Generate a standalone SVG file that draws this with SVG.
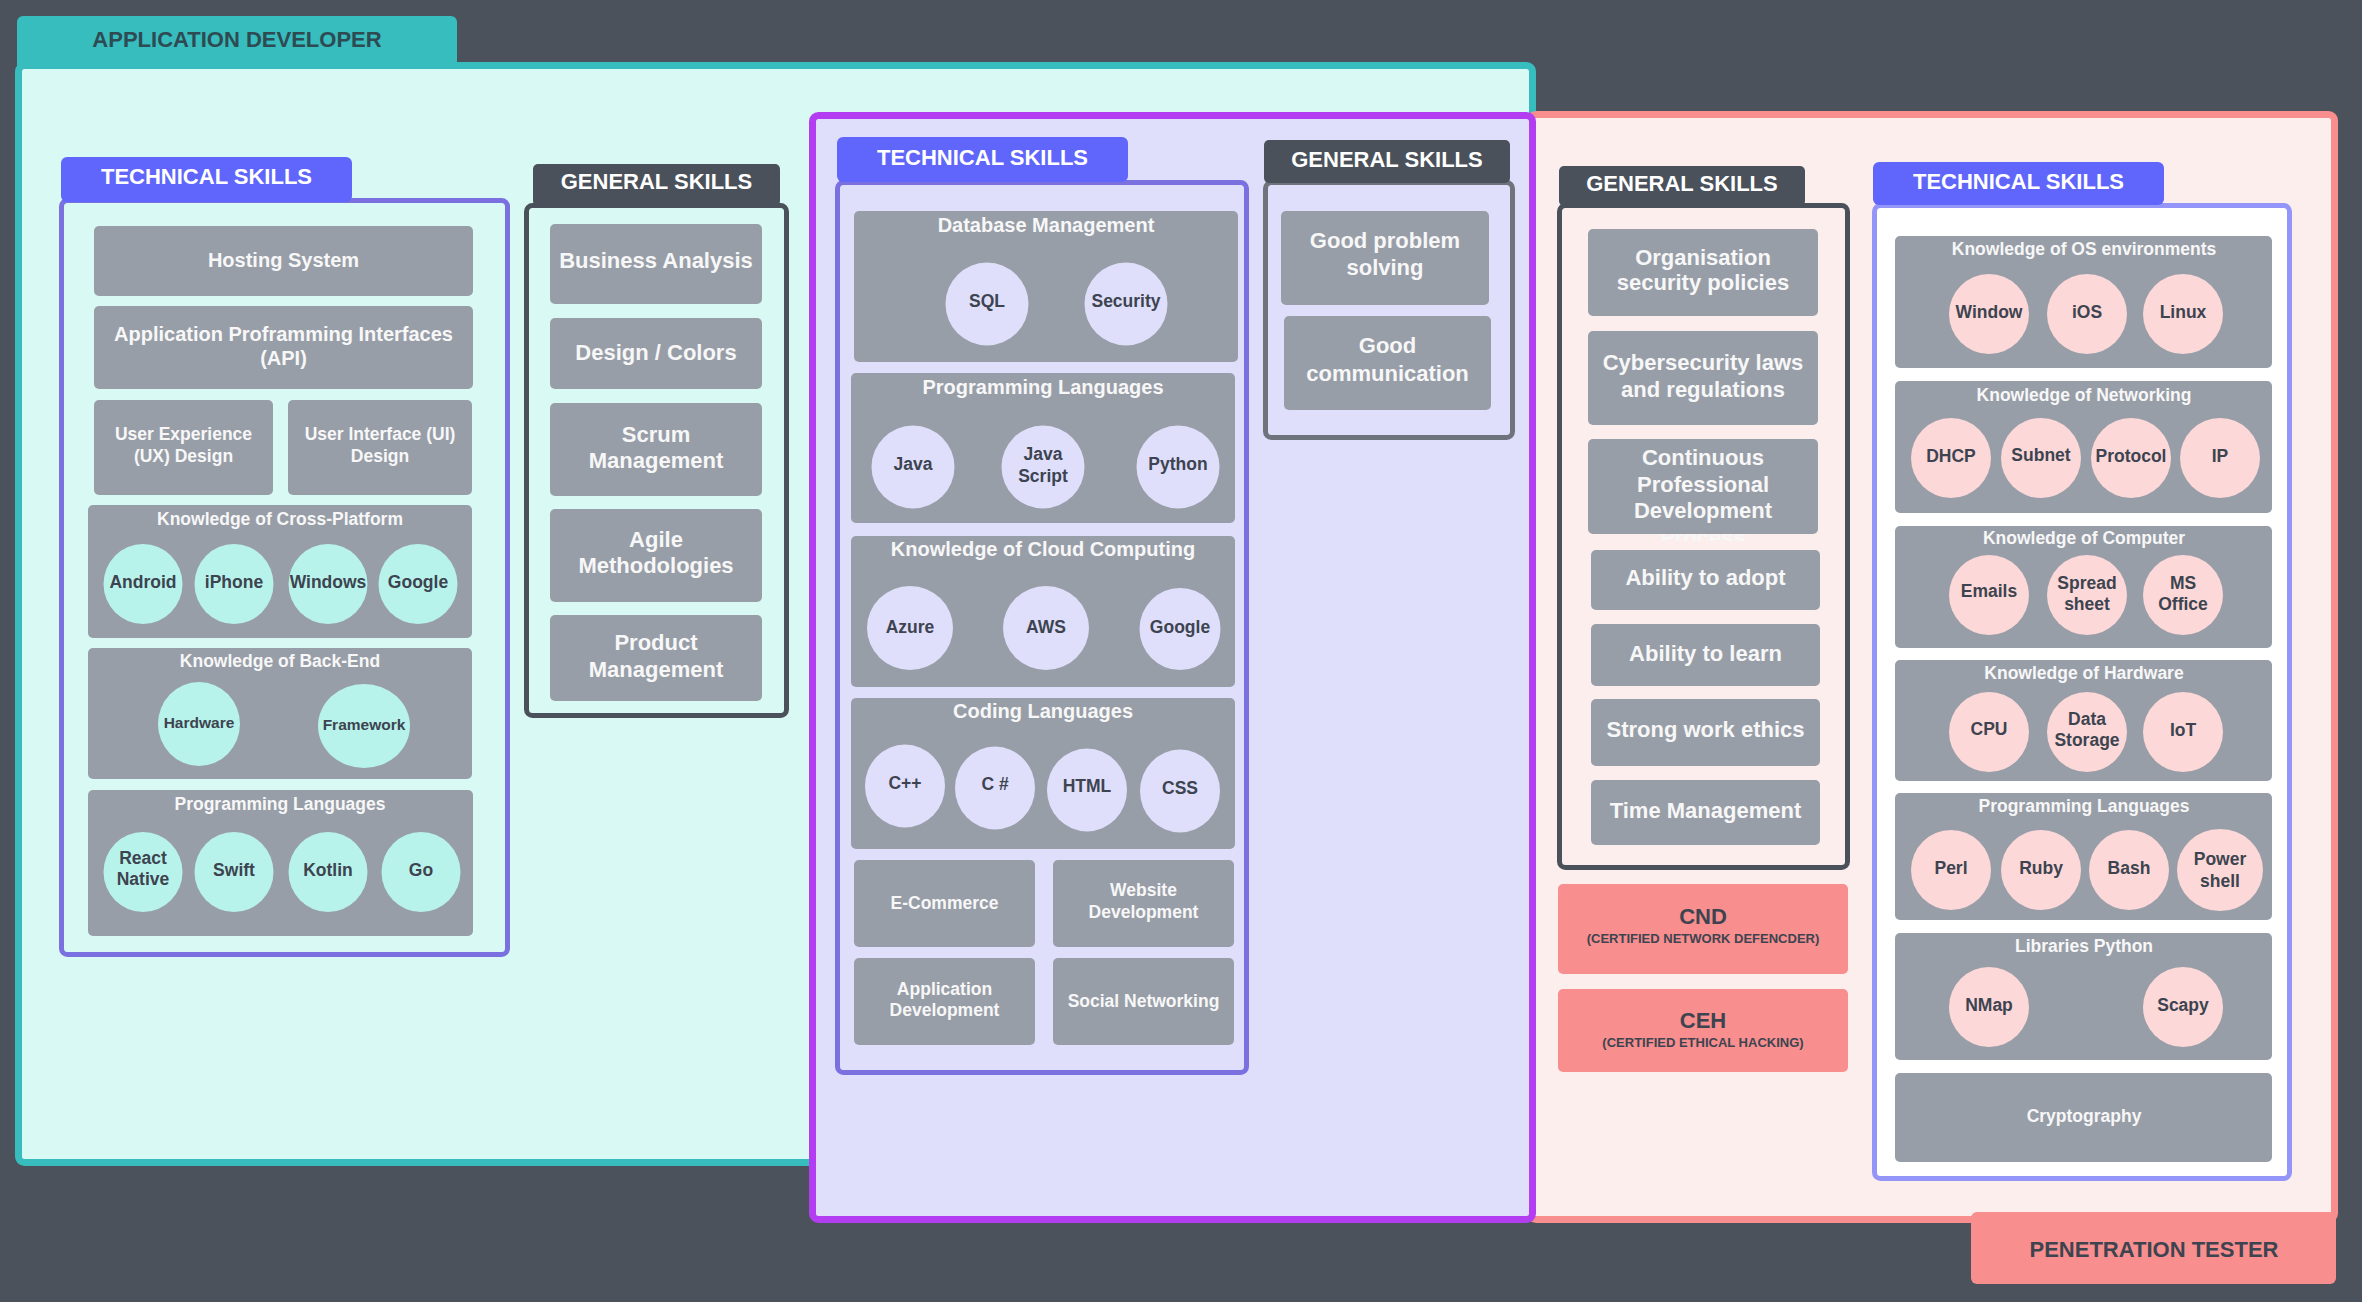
<svg xmlns="http://www.w3.org/2000/svg" width="2362" height="1302" viewBox="0 0 2362 1302">
<defs>
<style>
text{font-family:"Liberation Sans",Arial,sans-serif;font-weight:bold;text-anchor:middle}
.box{fill:#989ea7}
.w{fill:#f7f7f8}
.d{fill:#3d4450}
.t22{font-size:22px}
.t20{font-size:20px}
.t19{font-size:19px}
.t17{font-size:17.5px}
.t16{font-size:16px}
.tab{fill:#ffffff;font-size:22px}
.tc{fill:#b8f3eb}
.lc{fill:#dfdffc}
.pc{fill:#fcd8d8}
</style>
<clipPath id="procClip"><rect x="1590" y="534" width="230" height="7"/></clipPath>
</defs>
<rect x="0" y="0" width="2362" height="1302" fill="#4b525c"/>

<g id="panel-app-developer">
<rect x="17" y="16" width="440" height="60" rx="6" fill="#37bdbe"/>
<rect x="18.5" y="65.5" width="1514" height="1097" rx="6" fill="#d9f9f4" stroke="#37bdbe" stroke-width="7"/>
<text x="237" y="47" class="t22" fill="#2e4a52">APPLICATION DEVELOPER</text>
</g>

<g id="panel-penetration-tester">
<rect x="1530" y="114.5" width="804.5" height="1105" rx="6" fill="#fdeeee" stroke="#f88e8e" stroke-width="7"/>
<rect x="1971" y="1212" width="365" height="72" rx="6" fill="#f88e8e"/>
<text x="2154" y="1257" class="t22 d">PENETRATION TESTER</text>
</g>

<g id="panel-middle">
<rect x="812.5" y="115.5" width="720" height="1104" rx="6" fill="#dfdffc" stroke="#b33ef1" stroke-width="7"/>
</g>

<!-- Application developer: technical skills -->
<g id="app-technical-skills">
<rect x="61.5" y="200.5" width="446" height="754" rx="6" fill="none" stroke="#7a70e0" stroke-width="5"/>
<rect x="61" y="157" width="291" height="45" rx="6" fill="#6066fb"/>
<text x="206.5" y="184" class="tab">TECHNICAL SKILLS</text>
</g>
<g id="app-hosting"><rect class="box" x="94" y="226" width="379" height="70" rx="5"/><text class="w t20" x="283.5" y="266.5">Hosting System</text></g>
<g id="app-api"><rect class="box" x="94" y="306" width="379" height="83" rx="5"/><text class="w t20" x="283.5" y="341">Application Proframming Interfaces</text><text class="w t20" x="283.5" y="365">(API)</text></g>
<g id="app-ux"><rect class="box" x="94" y="400" width="179" height="95" rx="5"/><text class="w t17" x="183.5" y="440">User Experience</text><text class="w t17" x="183.5" y="462">(UX) Design</text></g>
<g id="app-ui"><rect class="box" x="288" y="400" width="184" height="95" rx="5"/><text class="w t17" x="380" y="440">User Interface (UI)</text><text class="w t17" x="380" y="462">Design</text></g>
<g id="app-cross-platform"><rect class="box" x="88" y="505" width="384" height="133" rx="5"/><text class="w t17" x="280" y="525">Knowledge of Cross-Platform</text>
<ellipse class="tc" cx="143" cy="584" rx="39.5" ry="40"/><text class="d t17" x="143" y="587.5">Android</text>
<ellipse class="tc" cx="234" cy="584" rx="39.5" ry="40"/><text class="d t17" x="234" y="587.5">iPhone</text>
<ellipse class="tc" cx="328" cy="584" rx="39.5" ry="40"/><text class="d t17" x="328" y="588">Windows</text>
<ellipse class="tc" cx="418" cy="584" rx="39.5" ry="40"/><text class="d t17" x="418" y="587.5">Google</text></g>
<g id="app-back-end"><rect class="box" x="88" y="648" width="384" height="131" rx="5"/><text class="w t17" x="280" y="667">Knowledge of Back-End</text>
<ellipse class="tc" cx="199" cy="724" rx="41" ry="42"/><text class="d" style="font-size:15.5px" x="199" y="728">Hardware</text>
<ellipse class="tc" cx="364" cy="726" rx="46" ry="42"/><text class="d" style="font-size:15.5px" x="364" y="730">Framework</text></g>
<g id="app-programming"><rect class="box" x="88" y="790" width="385" height="146" rx="5"/><text class="w t17" x="280" y="810">Programming Languages</text>
<ellipse class="tc" cx="143" cy="872" rx="39.5" ry="40"/><text class="d t17" x="143" y="864">React</text><text class="d t17" x="143" y="885">Native</text>
<ellipse class="tc" cx="234" cy="872" rx="39.5" ry="40"/><text class="d t17" x="234" y="875.5">Swift</text>
<ellipse class="tc" cx="328" cy="872" rx="39.5" ry="40"/><text class="d t17" x="328" y="875.5">Kotlin</text>
<ellipse class="tc" cx="421" cy="872" rx="39.5" ry="40"/><text class="d t17" x="421" y="876">Go</text></g>

<!-- Application developer: general skills -->
<g id="app-general-skills">
<rect x="526.5" y="205.5" width="260" height="510" rx="6" fill="none" stroke="#4a515b" stroke-width="5"/>
<rect x="533" y="164" width="247" height="42" rx="5" fill="#4a515b"/>
<text x="656.5" y="189" class="tab">GENERAL SKILLS</text>
</g>
<g id="app-business"><rect class="box" x="550" y="224" width="212" height="80" rx="5"/><text class="w t22" x="656" y="268">Business Analysis</text></g>
<g id="app-design"><rect class="box" x="550" y="318" width="212" height="71" rx="5"/><text class="w t22" x="656" y="360">Design / Colors</text></g>
<g id="app-scrum"><rect class="box" x="550" y="403" width="212" height="93" rx="5"/><text class="w t22" x="656" y="442">Scrum</text><text class="w t22" x="656" y="468">Management</text></g>
<g id="app-agile"><rect class="box" x="550" y="509" width="212" height="93" rx="5"/><text class="w t22" x="656" y="547">Agile</text><text class="w t22" x="656" y="573">Methodologies</text></g>
<g id="app-product"><rect class="box" x="550" y="615" width="212" height="86" rx="5"/><text class="w t22" x="656" y="650">Product</text><text class="w t22" x="656" y="677">Management</text></g>

<!-- Middle: technical skills -->
<g id="mid-technical-skills">
<rect x="837.5" y="182.5" width="409" height="890" rx="6" fill="none" stroke="#7a70e0" stroke-width="5"/>
<rect x="837" y="137" width="291" height="45" rx="6" fill="#6066fb"/>
<text x="982.5" y="165" class="tab">TECHNICAL SKILLS</text>
</g>
<g id="mid-database"><rect class="box" x="854" y="211" width="384" height="151" rx="5"/><text class="w t20" x="1046" y="232">Database Management</text>
<ellipse class="lc" cx="987" cy="304" rx="41.5" ry="41.5"/><text class="d t17" x="987" y="307">SQL</text>
<ellipse class="lc" cx="1126" cy="304" rx="41.5" ry="41.5"/><text class="d t17" x="1126" y="307">Security</text></g>
<g id="mid-programming"><rect class="box" x="851" y="373" width="384" height="150" rx="5"/><text class="w t20" x="1043" y="394">Programming Languages</text>
<ellipse class="lc" cx="913" cy="467" rx="41.5" ry="41.5"/><text class="d t17" x="913" y="470">Java</text>
<ellipse class="lc" cx="1043" cy="467" rx="41.5" ry="41.5"/><text class="d t17" x="1043" y="460">Java</text><text class="d t17" x="1043" y="482">Script</text>
<ellipse class="lc" cx="1178" cy="467" rx="41.5" ry="41.5"/><text class="d t17" x="1178" y="470">Python</text></g>
<g id="mid-cloud"><rect class="box" x="851" y="536" width="384" height="151" rx="5"/><text class="w t20" x="1043" y="556">Knowledge of Cloud Computing</text>
<ellipse class="lc" cx="910" cy="628" rx="43" ry="42"/><text class="d t17" x="910" y="633">Azure</text>
<ellipse class="lc" cx="1046" cy="628" rx="43" ry="42"/><text class="d t17" x="1046" y="633">AWS</text>
<ellipse class="lc" cx="1180" cy="629" rx="40.5" ry="41"/><text class="d t17" x="1180" y="633">Google</text></g>
<g id="mid-coding"><rect class="box" x="851" y="698" width="384" height="151" rx="5"/><text class="w t20" x="1043" y="718">Coding Languages</text>
<ellipse class="lc" cx="905" cy="786" rx="40" ry="41.5"/><text class="d t17" x="905" y="788.5">C++</text>
<ellipse class="lc" cx="995" cy="788" rx="40" ry="41.5"/><text class="d t17" x="995" y="790">C #</text>
<ellipse class="lc" cx="1087" cy="790" rx="40" ry="41.5"/><text class="d t17" x="1087" y="792">HTML</text>
<ellipse class="lc" cx="1180" cy="791" rx="40" ry="41.5"/><text class="d t17" x="1180" y="793.5">CSS</text></g>
<g id="mid-ecommerce"><rect class="box" x="854" y="860" width="181" height="87" rx="5"/><text class="w t17" x="944.5" y="909">E-Commerce</text></g>
<g id="mid-website"><rect class="box" x="1053" y="860" width="181" height="87" rx="5"/><text class="w t17" x="1143.5" y="896">Website</text><text class="w t17" x="1143.5" y="917.5">Development</text></g>
<g id="mid-appdev"><rect class="box" x="854" y="958" width="181" height="87" rx="5"/><text class="w t17" x="944.5" y="995">Application</text><text class="w t17" x="944.5" y="1016">Development</text></g>
<g id="mid-social"><rect class="box" x="1053" y="958" width="181" height="87" rx="5"/><text class="w t17" x="1143.5" y="1007">Social Networking</text></g>

<!-- Middle: general skills -->
<g id="mid-general-skills">
<rect x="1265.5" y="182.5" width="247" height="255" rx="6" fill="none" stroke="#6e737c" stroke-width="5"/>
<rect x="1264" y="140" width="246" height="43" rx="5" fill="#4a515b"/>
<text x="1387" y="167" class="tab">GENERAL SKILLS</text>
</g>
<g id="mid-problem"><rect class="box" x="1281" y="211" width="208" height="94" rx="5"/><text class="w t22" x="1385" y="248">Good problem</text><text class="w t22" x="1385" y="275">solving</text></g>
<g id="mid-communication"><rect class="box" x="1284" y="316" width="207" height="94" rx="5"/><text class="w t22" x="1387.5" y="353">Good</text><text class="w t22" x="1387.5" y="381">communication</text></g>

<!-- Penetration tester: general skills -->
<g id="pen-general-skills">
<rect x="1559.5" y="205.5" width="288" height="662" rx="6" fill="none" stroke="#4a515b" stroke-width="5"/>
<rect x="1559" y="166" width="246" height="40" rx="5" fill="#4a515b"/>
<text x="1682" y="191" class="tab">GENERAL SKILLS</text>
</g>
<g id="pen-org"><rect class="box" x="1588" y="229" width="230" height="87" rx="5"/><text class="w t22" x="1703" y="265">Organisation</text><text class="w t22" x="1703" y="290">security policies</text></g>
<g id="pen-cyber"><rect class="box" x="1588" y="331" width="230" height="94" rx="5"/><text class="w t22" x="1703" y="370">Cybersecurity laws</text><text class="w t22" x="1703" y="397">and regulations</text></g>
<g id="pen-cpd"><text class="w t22" x="1703" y="545" clip-path="url(#procClip)">Process</text><rect class="box" x="1588" y="439" width="230" height="95" rx="5"/><text class="w t22" x="1703" y="465">Continuous</text><text class="w t22" x="1703" y="491.5">Professional</text><text class="w t22" x="1703" y="518">Development</text></g>
<g id="pen-adopt"><rect class="box" x="1591" y="550" width="229" height="60" rx="5"/><text class="w t22" x="1705.5" y="585">Ability to adopt</text></g>
<g id="pen-learn"><rect class="box" x="1591" y="624" width="229" height="62" rx="5"/><text class="w t22" x="1705.5" y="661">Ability to learn</text></g>
<g id="pen-ethics"><rect class="box" x="1591" y="699" width="229" height="67" rx="5"/><text class="w t22" x="1705.5" y="736.5">Strong work ethics</text></g>
<g id="pen-time"><rect class="box" x="1591" y="780" width="229" height="65" rx="5"/><text class="w t22" x="1705.5" y="818">Time Management</text></g>
<g id="pen-cnd"><rect x="1558" y="884" width="290" height="90" rx="5" fill="#f88e8e"/><text class="d t22" x="1703" y="924">CND</text><text class="d" style="font-size:13px" x="1703" y="943">(CERTIFIED NETWORK DEFENCDER)</text></g>
<g id="pen-ceh"><rect x="1558" y="989" width="290" height="83" rx="5" fill="#f88e8e"/><text class="d t22" x="1703" y="1028">CEH</text><text class="d" style="font-size:13px" x="1703" y="1047">(CERTIFIED ETHICAL HACKING)</text></g>

<!-- Penetration tester: technical skills -->
<g id="pen-technical-skills">
<rect x="1874.5" y="205.5" width="415" height="973" rx="6" fill="#ffffff" stroke="#9396f8" stroke-width="5"/>
<rect x="1873" y="162" width="291" height="43" rx="6" fill="#6066fb"/>
<text x="2018.5" y="189" class="tab">TECHNICAL SKILLS</text>
</g>
<g id="pen-os"><rect class="box" x="1895" y="236" width="377" height="132" rx="5"/><text class="w t17" x="2084" y="255">Knowledge of OS environments</text>
<ellipse class="pc" cx="1989" cy="314" rx="40" ry="40"/><text class="d t17" x="1989" y="318">Window</text>
<ellipse class="pc" cx="2087" cy="314" rx="40" ry="40"/><text class="d t17" x="2087" y="318">iOS</text>
<ellipse class="pc" cx="2183" cy="314" rx="40" ry="40"/><text class="d t17" x="2183" y="318">Linux</text></g>
<g id="pen-networking"><rect class="box" x="1895" y="381" width="377" height="132" rx="5"/><text class="w t17" x="2084" y="401">Knowledge of Networking</text>
<ellipse class="pc" cx="1951" cy="458" rx="40" ry="40"/><text class="d t17" x="1951" y="462">DHCP</text>
<ellipse class="pc" cx="2041" cy="458" rx="40" ry="40"/><text class="d t17" x="2041" y="461">Subnet</text>
<ellipse class="pc" cx="2131" cy="458" rx="40" ry="40"/><text class="d t17" x="2131" y="462">Protocol</text>
<ellipse class="pc" cx="2220" cy="458" rx="40" ry="40"/><text class="d t17" x="2220" y="462">IP</text></g>
<g id="pen-computer"><rect class="box" x="1895" y="526" width="377" height="122" rx="5"/><text class="w t17" x="2084" y="544">Knowledge of Computer</text>
<ellipse class="pc" cx="1989" cy="595" rx="40" ry="40"/><text class="d t17" x="1989" y="597">Emails</text>
<ellipse class="pc" cx="2087" cy="595" rx="40" ry="40"/><text class="d t17" x="2087" y="589">Spread</text><text class="d t17" x="2087" y="610">sheet</text>
<ellipse class="pc" cx="2183" cy="595" rx="40" ry="40"/><text class="d t17" x="2183" y="589">MS</text><text class="d t17" x="2183" y="610">Office</text></g>
<g id="pen-hardware"><rect class="box" x="1895" y="660" width="377" height="121" rx="5"/><text class="w t17" x="2084" y="679">Knowledge of Hardware</text>
<ellipse class="pc" cx="1989" cy="732" rx="40" ry="40"/><text class="d t17" x="1989" y="735">CPU</text>
<ellipse class="pc" cx="2087" cy="732" rx="40" ry="40"/><text class="d t17" x="2087" y="725">Data</text><text class="d t17" x="2087" y="746">Storage</text>
<ellipse class="pc" cx="2183" cy="732" rx="40" ry="40"/><text class="d t17" x="2183" y="736">IoT</text></g>
<g id="pen-programming"><rect class="box" x="1895" y="793" width="377" height="127" rx="5"/><text class="w t17" x="2084" y="812">Programming Languages</text>
<ellipse class="pc" cx="1951" cy="870" rx="40" ry="40"/><text class="d t17" x="1951" y="874">Perl</text>
<ellipse class="pc" cx="2041" cy="870" rx="40" ry="40"/><text class="d t17" x="2041" y="874">Ruby</text>
<ellipse class="pc" cx="2129" cy="870" rx="40" ry="40"/><text class="d t17" x="2129" y="874">Bash</text>
<ellipse class="pc" cx="2220" cy="870" rx="43" ry="41"/><text class="d t17" x="2220" y="865">Power</text><text class="d t17" x="2220" y="887">shell</text></g>
<g id="pen-libraries"><rect class="box" x="1895" y="933" width="377" height="127" rx="5"/><text class="w t17" x="2084" y="952">Libraries Python</text>
<ellipse class="pc" cx="1989" cy="1007" rx="40" ry="40"/><text class="d t17" x="1989" y="1011">NMap</text>
<ellipse class="pc" cx="2183" cy="1007" rx="40" ry="40"/><text class="d t17" x="2183" y="1011">Scapy</text></g>
<g id="pen-crypto"><rect class="box" x="1895" y="1073" width="377" height="89" rx="5"/><text class="w t17" x="2084" y="1122">Cryptography</text></g>

<g id="connectors"></g>
</svg>
